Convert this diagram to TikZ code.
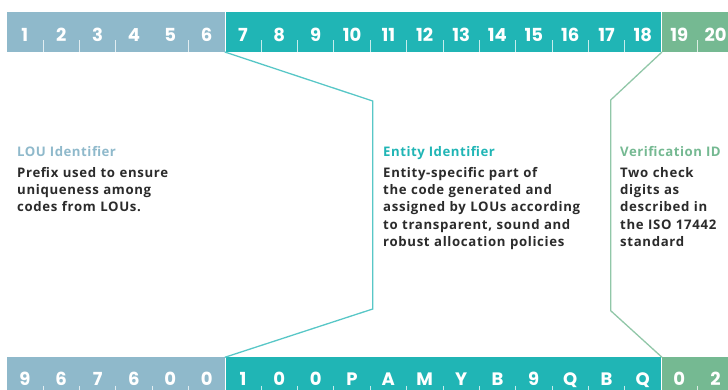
\documentclass[tikz,border=0pt]{standalone}
\usepackage{fontspec}
\setmainfont{Open Sans}
\newfontfamily\barfont{Poppins}
\newfontfamily\descfont[LetterSpace=5]{Open Sans}
\newfontfamily\titlefont[LetterSpace=4]{Open Sans}
\definecolor{lou}{HTML}{8FB9CB}
\definecolor{ent}{HTML}{20B5B5}
\definecolor{ver}{HTML}{75B992}
\definecolor{bodytext}{HTML}{2B2B2B}
\begin{document}
\begin{tikzpicture}[x=1pt,y=-1pt,
  sec/.style={inner sep=0pt, outer sep=0pt, anchor=north west, minimum height=40.3pt},
  num/.style={inner sep=0pt, anchor=base, text=white, font=\barfont\bfseries\fontsize{18}{18}\selectfont},
  tick/.style={draw=white, draw opacity=0.75, line width=0.8pt},
  title/.style={inner sep=0pt, anchor=base west, font=\titlefont\bfseries\fontsize{13.2}{15}\selectfont},
  desc/.style={inner sep=0pt, anchor=base west, text=bodytext, text width=230pt, align=left, font=\descfont\bfseries\fontsize{13.2}{17.4}\selectfont},
  conn/.style={line width=1.3pt}
]
\useasboundingbox (0,0) rectangle (728,389);
\clip (0,0) rectangle (728,389);
\def\cw{36.35}
% top bar
\node[sec, fill=lou, minimum width=218.1pt] (louT) at (6.7,11.7) {};
\node[sec, fill=ent, minimum width=434.4pt] (entT) at (226.2,11.7) {};
\node[sec, fill=ver, minimum width=80pt] (verT) at (662,11.7) {};
% bottom bar
\node[sec, fill=lou, minimum width=218.1pt] (louB) at (6.7,357.3) {};
\node[sec, fill=ent, minimum width=434.4pt] (entB) at (226.2,357.3) {};
\node[sec, fill=ver, minimum width=80pt] (verB) at (662,357.3) {};
% ticks
\foreach \k in {1,2,3,5,7,8,9,10,11,12,13,14,15,16,17,19}{
  \draw[tick] ({6.7+\k*\cw},40) -- ({6.7+\k*\cw},52);
}
\foreach \k in {1,2,3,4,5,7,8,9,10,11,12,13,14,15,16,17,19}{
  \draw[tick] ({6.7+\k*\cw},385.5) -- ({6.7+\k*\cw},397.6);
}
% top numbers
\foreach \i in {1,...,20}{
  \node[num] (t\i) at ({6.7+(\i-0.5)*\cw},41.6) {\i};
}
% bottom characters
\foreach \c [count=\i] in {9,6,7,6,0,0,1,0,0,P,A,M,Y,B,9,Q,B,Q,0,2}{
  \node[num] (b\i) at ({6.7+(\i-0.5)*\cw},385.6) {\c};
}
% connectors
\coordinate (c1a) at (372.7,101);
\coordinate (c1b) at (372.7,309);
\coordinate (c2a) at (610.7,100);
\coordinate (c2b) at (610.7,310.7);
\draw[conn, draw=ent!75] (louT.south east) -- (c1a) -- (c1b) -- (louB.north east);
\draw[conn, draw=ver!80] (verT.south west) -- (c2a) -- (c2b) -- (verB.north west);
% texts
\node[title, text=lou] (louTitle) at (17,156.5) {LOU Identifier};
\node[desc] (louDesc) at (17,177) {Prefix used to ensure\\uniqueness among\\codes from LOUs.};
\node[title, text=ent] (entTitle) at (383,156.5) {Entity Identifier};
\node[desc] (entDesc) at (383,177) {Entity-specific part of\\the code generated and\\assigned by LOUs according\\to transparent, sound and\\robust allocation policies};
\node[title, text=ver] (verTitle) at (620,156.5) {Verification ID};
\node[desc] (verDesc) at (620,177) {Two check\\digits as\\described in\\the ISO 17442\\standard};
\end{tikzpicture}
\end{document}
